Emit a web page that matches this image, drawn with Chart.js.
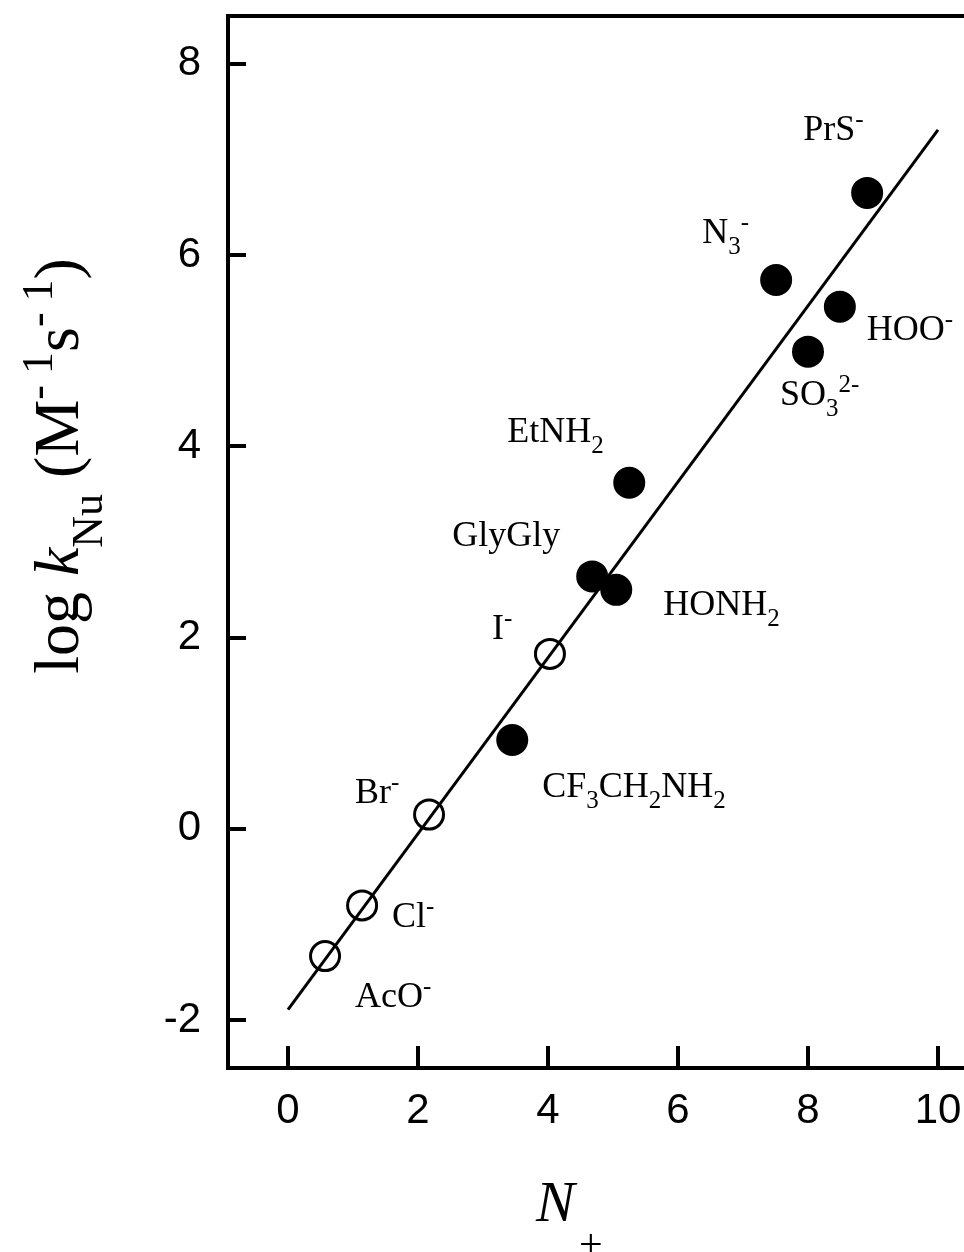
<!DOCTYPE html>
<html>
<head>
<meta charset="utf-8">
<script src="https://cdn.jsdelivr.net/npm/chart.js@4.4.1/dist/chart.umd.min.js"></script>
<style>
  body { margin: 0; background: #fff; overflow: hidden; }
</style>
</head>
<body>
<canvas id="plot" width="964" height="1252"></canvas>
<script>
// open circles (anions), filled circles (amines, sulfur/oxygen nucleophiles)
const openNames = ["AcO^-", "Cl^-", "Br^-", "I^-"];
const openX = [0.57, 1.14, 2.17, 4.03];
const openY = [-1.33, -0.80, 0.15, 1.83];

const filledNames = ["CF_3CH_2NH_2", "GlyGly", "HONH_2", "EtNH_2", "N_3^-", "SO_3^{2-}", "HOO^-", "PrS^-"];
const filledX = [3.45, 4.68, 5.05, 5.25, 7.51, 8.00, 8.49, 8.91];
const filledY = [0.93, 2.64, 2.50, 3.62, 5.74, 4.99, 5.46, 6.65];

// fitted line
const fitX = [0, 10];
const fitY = [-1.89, 7.31];

const xTicks = [0, 2, 4, 6, 8, 10];
const yTicks = [-2, 0, 2, 4, 6, 8];

// label placement, pixels from the point
const openLabelOffsets = [[30, 51], [30, 22], [-74, -12], [-58, -15]];
const filledLabelOffsets = [[30, 57], [-140, -30], [47, 25], [-122, -41], [-74, -37], [-28, 53], [27, 33], [-64, -53]];

const serif = "'Liberation Serif', 'Times New Roman', serif";
const sans = "'Liberation Sans', Arial, sans-serif";

function parseLabel(s) {
    const segs = [];
    let buf = "";
    for (let i = 0; i < s.length; i++) {
        const c = s[i];
        if (c === "_" || c === "^") {
            if (buf) { segs.push({ t: buf, kind: "n" }); buf = ""; }
            let tok;
            if (s[i + 1] === "{") {
                const end = s.indexOf("}", i);
                tok = s.slice(i + 2, end);
                i = end;
            } else {
                tok = s[i + 1];
                i++;
            }
            segs.push({ t: tok, kind: c === "_" ? "sub" : "sup" });
        } else {
            buf += c;
        }
    }
    if (buf) segs.push({ t: buf, kind: "n" });
    return segs;
}

function segFont(seg, o) {
    const size = seg.kind === "n" ? o.size : o.small;
    return (seg.italic ? "italic " : "") + size + "px " + o.family;
}

function segsWidth(ctx, segs, o) {
    let w = 0;
    segs.forEach(seg => { ctx.font = segFont(seg, o); w += ctx.measureText(seg.t).width; });
    return w;
}

function drawSegs(ctx, segs, x, y, o) {
    let cx = x;
    ctx.textAlign = "left";
    ctx.textBaseline = "alphabetic";
    segs.forEach(seg => {
        ctx.font = segFont(seg, o);
        const dy = seg.kind === "sub" ? o.subDy : seg.kind === "sup" ? o.supDy : 0;
        ctx.fillText(seg.t, cx, y + dy);
        cx += ctx.measureText(seg.t).width;
    });
}

const labelStyle = { size: 36, small: 25, subDy: 11, supDy: -13, family: serif };

const decorations = {
    id: "decorations",
    afterDraw(chart) {
        const ctx = chart.ctx;
        const area = chart.chartArea;
        const xs = chart.scales.x;
        const ys = chart.scales.y;
        ctx.save();
        ctx.strokeStyle = "#000";
        ctx.fillStyle = "#000";
        ctx.lineWidth = 4;

        // inward tick marks
        xTicks.forEach(v => {
            const px = Math.round(xs.getPixelForValue(v));
            ctx.beginPath();
            ctx.moveTo(px, area.bottom);
            ctx.lineTo(px, area.bottom - 22);
            ctx.stroke();
        });
        yTicks.forEach(v => {
            const py = Math.round(ys.getPixelForValue(v));
            ctx.beginPath();
            ctx.moveTo(area.left, py);
            ctx.lineTo(area.left + 18, py);
            ctx.stroke();
        });

        // point labels
        const groups = [
            { names: openNames, offs: openLabelOffsets, idx: 1 },
            { names: filledNames, offs: filledLabelOffsets, idx: 2 }
        ];
        groups.forEach(g => {
            const meta = chart.getDatasetMeta(g.idx);
            g.names.forEach((name, i) => {
                const pt = meta.data[i];
                drawSegs(ctx, parseLabel(name), pt.x + g.offs[i][0], pt.y + g.offs[i][1], labelStyle);
            });
        });

        // x title
        drawSegs(ctx, [{ t: "N", kind: "n", italic: true }], 536, 1221, { size: 58, small: 41, family: serif });
        drawSegs(ctx, [{ t: "+", kind: "n" }], 579, 1258, { size: 42, small: 42, family: serif });

        // y title, rotated
        const yt = [
            { t: "log ", kind: "n" },
            { t: "k", kind: "n", italic: true },
            { t: "Nu", kind: "sub" },
            { t: " (M", kind: "n" },
            { t: "- 1", kind: "sup" },
            { t: "s", kind: "n" },
            { t: "- 1", kind: "sup" },
            { t: ")", kind: "n" }
        ];
        const yo = { size: 64, small: 44, subDy: 24, supDy: -26, family: serif };
        const w = segsWidth(ctx, yt, yo);
        ctx.translate(78, 466);
        ctx.rotate(-Math.PI / 2);
        drawSegs(ctx, yt, -w / 2, 0, yo);
        ctx.restore();
    }
};

new Chart(document.getElementById("plot"), {
    type: "scatter",
    data: {
        datasets: [
            {
                type: "line",
                data: fitX.map((x, i) => ({ x: x, y: fitY[i] })),
                borderColor: "#000",
                borderWidth: 3,
                pointRadius: 0,
                fill: false
            },
            {
                data: openX.map((x, i) => ({ x: x, y: openY[i] })),
                pointRadius: 14.5,
                pointBorderWidth: 3,
                pointBorderColor: "#000",
                pointBackgroundColor: "rgba(0,0,0,0)"
            },
            {
                data: filledX.map((x, i) => ({ x: x, y: filledY[i] })),
                pointRadius: 15,
                pointBorderWidth: 2,
                pointBorderColor: "#000",
                pointBackgroundColor: "#000"
            }
        ]
    },
    options: {
        responsive: false,
        animation: false,
        devicePixelRatio: 1,
        layout: { padding: 0, autoPadding: false },
        plugins: { legend: { display: false }, tooltip: { enabled: false } },
        scales: {
            x: {
                type: "linear",
                position: "bottom",
                min: -0.923,
                max: 10.4,
                afterBuildTicks: s => { s.ticks = xTicks.map(v => ({ value: v })); },
                afterFit: s => { s.height = 184; s.paddingLeft = 0; s.paddingRight = 0; },
                grid: { display: false, drawTicks: false },
                border: { display: true, width: 4, color: "#000" },
                ticks: { color: "#000", padding: 18, maxRotation: 0, font: { family: sans, size: 42 } }
            },
            x2: {
                type: "linear",
                position: "top",
                afterFit: s => { s.height = 16; s.paddingLeft = 0; s.paddingRight = 0; },
                grid: { display: false, drawTicks: false },
                border: { display: true, width: 4, color: "#000" },
                ticks: { display: false }
            },
            y: {
                type: "linear",
                position: "left",
                min: -2.5,
                max: 8.5,
                afterBuildTicks: s => { s.ticks = yTicks.map(v => ({ value: v })); },
                afterFit: s => { s.width = 228; s.paddingTop = 0; s.paddingBottom = 0; },
                grid: { display: false, drawTicks: false },
                border: { display: true, width: 4, color: "#000" },
                ticks: { color: "#000", padding: 27, font: { family: sans, size: 42 } }
            }
        }
    },
    plugins: [decorations]
});
</script>
</body>
</html>
